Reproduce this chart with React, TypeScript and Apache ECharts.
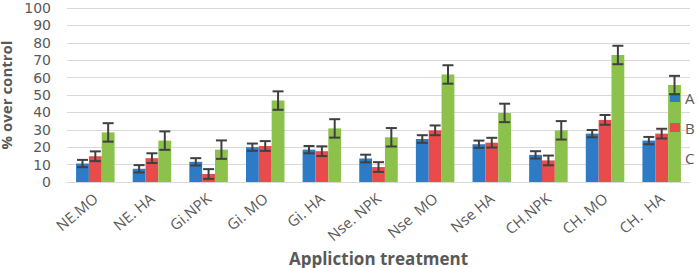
import React, { useEffect, useRef } from "react";
import * as echarts from "echarts";

const categories = ["NE.MO", "NE. HA", "Gi.NPK", "Gi. MO", "Gi. HA", "Nse. NPK", "Nse  MO", "Nse HA", "CH.NPK", "CH. MO", "CH.  HA"];
const seriesA = [10.6, 7.6, 11.6, 20, 18.6, 13.5, 24.7, 21.7, 15.6, 27.8, 23.8];
const seriesB = [14.8, 13.7, 4.6, 20.7, 17.7, 8.6, 29.7, 22.6, 12.4, 35.7, 27.8];
const seriesC = [28.5, 23.8, 18.6, 46.8, 30.8, 25.7, 61.8, 39.7, 29.7, 73, 55.7];
const errA = [2.1, 2.1, 2.1, 2.1, 2.1, 2.2, 2.2, 2.1, 2.1, 2.1, 2.1];
const errB = [2.8, 2.8, 2.8, 2.8, 2.8, 2.8, 2.8, 2.8, 2.8, 2.8, 2.8];
const errC = [5.3, 5.3, 5.3, 5.3, 5.3, 5.3, 5.3, 5.3, 5.3, 5.3, 5.3];
const seriesNames = ["A", "B", "C"];
const yTicks = [0, 10, 20, 30, 40, 50, 60, 70, 80, 90, 100];

const colors = ["#2C7BC4", "#E84B4B", "#8CC24C"];
const GAP = 0.32;
const FONT = "'Open Sans', 'Liberation Sans', sans-serif";
const NUMFONT = "'DejaVu Sans', 'Open Sans', sans-serif";

export default function App() {
  const ref = useRef<HTMLDivElement>(null);
  useEffect(() => {
    if (!ref.current) return;
    const chart = echarts.init(ref.current, undefined, { renderer: "svg" });
    const values = [seriesA, seriesB, seriesC];
    const errs = [errA, errB, errC];

    const barSeries = values.map((v, i) => ({
      name: seriesNames[i],
      type: "bar" as const,
      data: v,
      barGap: "0%",
      barCategoryGap: GAP * 100 + "%",
      itemStyle: { color: colors[i] },
      z: 2,
    }));

    const errSeries = values.map((v, si) => ({
      name: seriesNames[si] + "_err",
      type: "custom" as const,
      z: 5,
      data: v.map((val, ci) => [ci, val, errs[si][ci]]),
      encode: { x: 0, y: 1 },
      renderItem: (params: any, api: any) => {
        const ci = api.value(0);
        const val = api.value(1);
        const e = api.value(2);
        const band = api.size([1, 0])[0];
        const bw = (band * (1 - GAP)) / 3;
        const center = api.coord([ci, val]);
        const x = center[0] + (si - 1) * bw;
        const top = api.coord([ci, val + e])[1];
        const bot = api.coord([ci, val - e])[1];
        const half = 5.5;
        const style = { stroke: "#404040", lineWidth: 2 };
        return {
          type: "group",
          children: [
            { type: "line", shape: { x1: x, y1: top, x2: x, y2: bot }, style },
            { type: "line", shape: { x1: x - half, y1: top, x2: x + half, y2: top }, style },
            { type: "line", shape: { x1: x - half, y1: bot, x2: x + half, y2: bot }, style },
          ],
        };
      },
    }));

    chart.setOption({
      animation: false,
      textStyle: { fontFamily: FONT },
      grid: { left: 67, right: 9, top: 8, bottom: 86, containLabel: false, outerBoundsMode: "none" },
      legend: {
        data: seriesNames,
        orient: "vertical",
        left: 665,
        top: 85,
        itemWidth: 10,
        itemHeight: 9,
        itemGap: 15,
        icon: "rect",
        textStyle: { color: "#595959", fontSize: 15, fontFamily: FONT, padding: [0, 0, 0, 0] },
        itemStyle: { borderWidth: 0 },
      },
      xAxis: {
        type: "category",
        data: categories,
        name: "Appliction treatment",
        nameLocation: "middle",
        nameGap: 67,
        nameTextStyle: { color: "#595959", fontSize: 17, lineHeight: 17, fontWeight: "bold", fontFamily: FONT },
        axisLine: { lineStyle: { color: "#d9d9d9" } },
        axisTick: { show: false },
        axisLabel: { rotate: 40, color: "#595959", fontSize: 15, margin: 14, interval: 0, fontFamily: FONT },
      },
      yAxis: {
        type: "value",
        min: 0,
        max: 100,
        interval: 10,
        name: "% over control",
        nameLocation: "middle",
        nameGap: 50,
        nameTextStyle: { color: "#595959", fontSize: 15, lineHeight: 15, fontWeight: "bold", fontFamily: FONT },
        axisLine: { show: false },
        axisTick: { show: false },
        splitLine: { lineStyle: { color: "#d9d9d9", width: 1 } },
        axisLabel: {
          color: "#595959",
          fontSize: 14,
          lineHeight: 14,
          margin: 16,
          fontFamily: NUMFONT,
          formatter: (v: number) => (yTicks.includes(v) ? String(v) : ""),
        },
      },
      series: [...barSeries, ...errSeries],
    });
    return () => chart.dispose();
  }, []);
  return <div ref={ref} style={{ width: 699, height: 268, position: "absolute", left: 0, top: 0 }} />;
}
